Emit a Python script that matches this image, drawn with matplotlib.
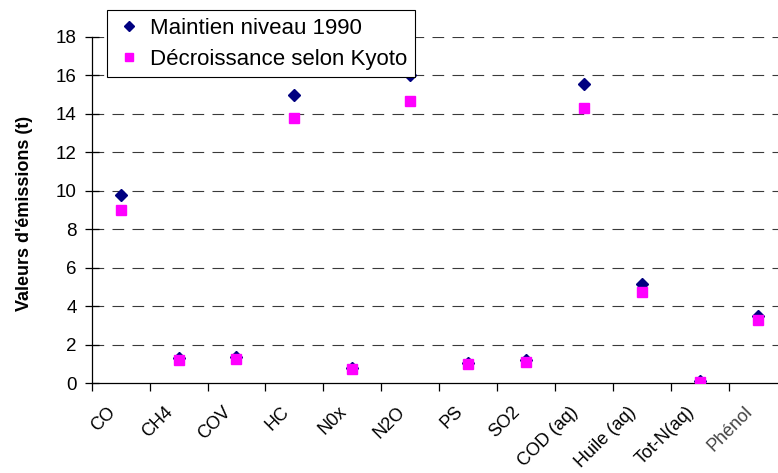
import matplotlib.pyplot as plt
import matplotlib.transforms as mtransforms
import numpy as np

plt.rcParams['font.family'] = ['Liberation Sans', 'DejaVu Sans']

# categories and values (tonnes)
polluants = ['CO', 'CH4', 'COV', 'HC', 'N0x', 'N2O', 'PS', 'SO2',
             'COD (aq)', 'Huile (aq)', 'Tot-N(aq)', 'Phénol']
maintien_1990 = [9.77, 1.33, 1.36, 15.0, 0.8, 16.0, 1.05, 1.2,
                 15.55, 5.17, 0.1, 3.52]
decroissance_kyoto = [9.03, 1.21, 1.25, 13.78, 0.73, 14.67, 0.99, 1.09,
                      14.3, 4.76, 0.08, 3.28]
yticks = [0, 2, 4, 6, 8, 10, 12, 14, 16, 18]

fig = plt.figure(figsize=(7.78, 4.73), dpi=100)
# l'axe depasse le bord droit de l'image (comme dans l'original)
ax = fig.add_axes([0.1179, 0.1896, 0.893, 0.7324])

x = np.arange(len(polluants)) + 0.5

# lignes de grille tiretees
for y in yticks[1:]:
    ax.axhline(y, color='#3a3a3a', lw=0.8, dashes=(10.5, 7.5), zorder=1)

ax.plot(x, maintien_1990, linestyle='none', marker='D', ms=6.2,
        color='#000080', label='Maintien niveau 1990', zorder=3)
ax.plot(x, decroissance_kyoto, linestyle='none', marker='s', ms=6.8,
        color='#ff00ff', label='Décroissance selon Kyoto', zorder=4)

ax.set_xlim(0, len(polluants))
ax.set_ylim(0, 18)
ax.set_yticks(yticks)
ax.set_xticks(np.arange(len(polluants) + 1))
ax.set_xticklabels([])

# etiquettes des categories, inclinees a 45 degres
decal = mtransforms.ScaledTranslation(-0.14, -0.2, fig.dpi_scale_trans)
for xi, nom in zip(x, polluants):
    couleur = '#444444' if nom == 'Phénol' else 'black'
    ax.text(xi, 0, nom, transform=ax.get_xaxis_transform() + decal,
            rotation=45, rotation_mode='anchor', ha='right', va='top',
            fontsize=13, color=couleur)

ax.tick_params(axis='y', direction='inout', length=9.5, width=0.9,
               labelsize=13.5, pad=6)
ax.tick_params(axis='x', which='major', direction='out', length=6, width=0.9)

for side in ['top', 'right']:
    ax.spines[side].set_visible(False)
for side in ['left', 'bottom']:
    ax.spines[side].set_linewidth(0.9)

ax.set_ylabel("Valeurs d'émissions (t)", fontsize=13, fontweight='bold')
ax.yaxis.set_label_coords(-0.0845, 0.49)

leg = ax.legend(loc='upper left', bbox_to_anchor=(0.022, 1.078),
                fontsize=16, frameon=True, fancybox=False, edgecolor='black',
                framealpha=1, borderpad=0.35, handletextpad=0.3,
                labelspacing=0.45, handlelength=1.3, borderaxespad=0,
                markerscale=0.8)
leg.get_frame().set_linewidth(0.8)
leg.set_zorder(5)

fig.savefig('out.png', dpi=100)
